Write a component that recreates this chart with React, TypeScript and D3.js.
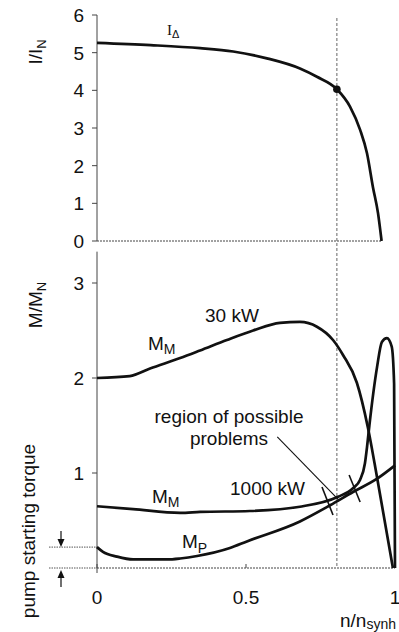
import React from 'react';
import * as d3 from 'd3';

// I/I_N curve (top panel)
const nCurrent = [0, 0.18, 0.346, 0.457, 0.57, 0.681, 0.738, 0.805, 0.849, 0.883, 0.906, 0.926, 0.943, 0.955];
const current = [5.26, 5.2, 5.12, 5.03, 4.85, 4.58, 4.36, 4.03, 3.57, 2.95, 2.33, 1.43, 0.74, 0];

// M/M_N curves (bottom panel)
const n30kW = [0, 0.11, 0.178, 0.279, 0.346, 0.436, 0.524, 0.614, 0.681, 0.738, 0.792, 0.826, 0.872, 0.909, 0.94, 0.993];
const m30kW = [2.0, 2.02, 2.1, 2.21, 2.29, 2.4, 2.5, 2.58, 2.59, 2.54, 2.4, 2.24, 1.95, 1.48, 0.95, 0];

const n1000kW = [0, 0.121, 0.279, 0.346, 0.513, 0.681, 0.809, 0.859, 0.883, 0.899, 0.906, 0.914, 0.94, 0.956, 0.973, 0.989, 0.997, 1.0];
const m1000kW = [0.65, 0.62, 0.58, 0.59, 0.6, 0.645, 0.75, 0.84, 0.93, 1.1, 1.27, 1.5, 2.12, 2.38, 2.42, 2.33, 1.94, 0];

const nPump = [0, 0.02, 0.067, 0.121, 0.235, 0.279, 0.336, 0.446, 0.503, 0.681, 0.782, 0.859, 0.94, 1.0];
const mPump = [0.22, 0.17, 0.12, 0.09, 0.09, 0.1, 0.126, 0.21, 0.28, 0.49, 0.66, 0.8, 0.94, 1.08];

const topTicks = [0, 1, 2, 3, 4, 5, 6];
const bottomTicks = [1, 2, 3];
const xTicks = [0, 0.5, 1];
const xTickLabels = ['0', '0.5', '1'];

const operatingPoint = 0.805;
const currentAtPoint = 4.03;

// region of possible problems, [n, M] pairs
const leader = [[0.605, 1.38], [0.811, 0.716]];
const regionMarks = [
  [[0.755, 0.853], [0.792, 0.558]],
  [[0.846, 0.979], [0.883, 0.695]],
];

const FONT = '"Liberation Sans", Arial, Helvetica, sans-serif';
const INK = '#111';

export default function App() {
  const width = 399;
  const height = 632;

  const x = d3.scaleLinear().domain([0, 1]).range([97, 395]);
  const yTop = d3.scaleLinear().domain([0, 6]).range([241, 15]);
  const yBot = d3.scaleLinear().domain([0, 3]).range([568, 283]);

  const lineTop = d3.line<[number, number]>()
    .x(d => x(d[0]))
    .y(d => yTop(d[1]))
    .curve(d3.curveMonotoneX);
  const lineBot = d3.line<[number, number]>()
    .x(d => x(d[0]))
    .y(d => yBot(d[1]))
    .curve(d3.curveMonotoneX);

  const zip = (a: number[], b: number[]) => a.map((v, i) => [v, b[i]] as [number, number]);

  const pumpStart = mPump[0];
  const arrowX = 61;

  return (
    <div>
      <style>{`body{margin:0}`}</style>
      <svg width={width} height={height} style={{ display: 'block', background: '#fff' }} fontFamily={FONT}>
        {/* top axes */}
        <line x1={x(0)} x2={x(0)} y1={yTop(0)} y2={yTop(6)} stroke="#444" strokeWidth={1} />
        <line x1={x(0)} x2={x(0.955)} y1={yTop(0)} y2={yTop(0)} stroke="#444" strokeWidth={1} strokeDasharray="2 1" />
        {topTicks.map(t => (
          <g key={'tt' + t}>
            <line x1={x(0) - 5} x2={x(0)} y1={yTop(t)} y2={yTop(t)} stroke="#444" />
            <text x={84} y={yTop(t)} dy="0.36em" textAnchor="end" fontSize={19} fill={INK}>{t}</text>
          </g>
        ))}
        <text transform={`translate(42,52) rotate(-90)`} textAnchor="middle" fontSize={19} fill={INK}>
          I/I<tspan fontSize={13} dy={4}>N</tspan>
        </text>

        {/* bottom axes */}
        <line x1={x(0)} x2={x(0)} y1={yBot(0) + 5} y2={yBot(3.33)} stroke="#444" strokeWidth={1} />
        <line x1={x(0)} x2={x(1)} y1={yBot(0)} y2={yBot(0)} stroke="#444" strokeWidth={1} strokeDasharray="2 1" />
        {bottomTicks.map(t => (
          <g key={'bt' + t}>
            <line x1={x(0) - 5} x2={x(0)} y1={yBot(t)} y2={yBot(t)} stroke="#444" />
            <text x={84} y={yBot(t)} dy="0.36em" textAnchor="end" fontSize={19} fill={INK}>{t}</text>
          </g>
        ))}
        {xTicks.map((t, i) => (
          <g key={'xt' + t}>
            <line x1={x(t)} x2={x(t)} y1={yBot(0)} y2={yBot(0) - 4} stroke="#444" />
            <text x={x(t)} y={604} textAnchor="middle" fontSize={19} fill={INK}>{xTickLabels[i]}</text>
          </g>
        ))}
        <text x={340} y={627} fontSize={19} fill={INK}>
          n/n<tspan fontSize={14} dy={2}>synh</tspan>
        </text>
        <text transform={`translate(42,305) rotate(-90)`} textAnchor="middle" fontSize={19} fill={INK}>
          M/M<tspan fontSize={13} dy={4}>N</tspan>
        </text>
        <text transform={`translate(35,531) rotate(-90)`} textAnchor="middle" fontSize={19} fill={INK}>
          pump starting torque
        </text>

        {/* pump starting torque marker */}
        <line x1={49} x2={x(0)} y1={yBot(pumpStart)} y2={yBot(pumpStart)} stroke="#555" strokeDasharray="1.5 1" />
        <line x1={49} x2={x(0)} y1={yBot(0)} y2={yBot(0)} stroke="#555" strokeDasharray="1.5 1" />
        <line x1={arrowX} x2={arrowX} y1={yBot(pumpStart) - 16} y2={yBot(pumpStart) - 6} stroke={INK} strokeWidth={1.2} />
        <path d={`M${arrowX - 3.5},${yBot(pumpStart) - 8} L${arrowX + 3.5},${yBot(pumpStart) - 8} L${arrowX},${yBot(pumpStart)} Z`} fill={INK} />
        <line x1={arrowX} x2={arrowX} y1={yBot(0) + 6} y2={yBot(0) + 19} stroke={INK} strokeWidth={1.2} />
        <path d={`M${arrowX - 3.5},${yBot(0) + 10} L${arrowX + 3.5},${yBot(0) + 10} L${arrowX},${yBot(0) + 2} Z`} fill={INK} />

        {/* operating speed */}
        <line x1={x(operatingPoint)} x2={x(operatingPoint)} y1={18} y2={yBot(0)} stroke="#666" strokeWidth={1} strokeDasharray="3 2" />

        {/* curves */}
        <path d={lineTop(zip(nCurrent, current)) || ''} fill="none" stroke={INK} strokeWidth={2.7} />
        <circle cx={x(operatingPoint)} cy={yTop(currentAtPoint)} r={3.8} fill={INK} />
        <path d={lineBot(zip(n30kW, m30kW)) || ''} fill="none" stroke={INK} strokeWidth={2.7} />
        <path d={lineBot(zip(n1000kW, m1000kW)) || ''} fill="none" stroke={INK} strokeWidth={2.7} />
        <path d={lineBot(zip(nPump, mPump)) || ''} fill="none" stroke={INK} strokeWidth={2.7} />

        {/* region annotation */}
        <line x1={x(leader[0][0])} y1={yBot(leader[0][1])} x2={x(leader[1][0])} y2={yBot(leader[1][1])} stroke={INK} strokeWidth={1.1} />
        {regionMarks.map((m, i) => (
          <line key={'rm' + i} x1={x(m[0][0])} y1={yBot(m[0][1])} x2={x(m[1][0])} y2={yBot(m[1][1])} stroke={INK} strokeWidth={1.6} />
        ))}

        {/* labels */}
        <text x={167} y={35} fontSize={15} fill={INK} fontFamily='"Liberation Serif", serif'>
          I<tspan fontSize={11} dy={3} fontFamily={FONT}>Δ</tspan>
        </text>
        <text x={148} y={350} fontSize={19} fill={INK}>
          M<tspan fontSize={14} dy={4}>M</tspan>
        </text>
        <text x={205} y={322} fontSize={19} fill={INK}>30 kW</text>
        <text x={229} y={423} textAnchor="middle" fontSize={19} fill={INK}>region of possible</text>
        <text x={229} y={445} textAnchor="middle" fontSize={19} fill={INK}>problems</text>
        <text x={152} y={503} fontSize={19} fill={INK}>
          M<tspan fontSize={14} dy={4}>M</tspan>
        </text>
        <text x={230} y={495} fontSize={19} fill={INK}>1000 kW</text>
        <text x={182} y={548} fontSize={19} fill={INK}>
          M<tspan fontSize={14} dy={5}>P</tspan>
        </text>
      </svg>
    </div>
  );
}
